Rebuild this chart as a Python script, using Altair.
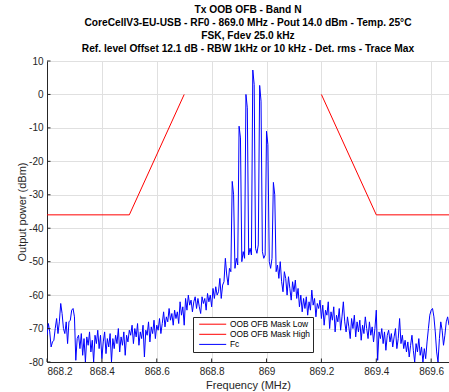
import altair as alt
import pandas as pd

# Title block (four lines)
TITLE_LINES = [
    "Tx OOB OFB - Band N",
    "CoreCellV3-EU-USB - RF0 - 869.0 MHz - Pout 14.0 dBm - Temp. 25°C",
    "FSK, Fdev 25.0 kHz",
    "Ref. level Offset 12.1 dB - RBW 1kHz or 10 kHz - Det. rms - Trace Max",
]

series_names = ["OOB OFB Mask Low", "OOB OFB Mask High", "Fc"]
series_colors = ["#ff0000", "#ff0000", "#0000ff"]

# Out-of-band masks (MHz, dBm)
mask_low_freq = [868.2, 868.5, 868.7]
mask_low_dbm = [-36, -36, 0]
mask_high_freq = [869.2, 869.4, 869.665]
mask_high_dbm = [0, -36, -36]

# Measured trace, 5 kHz bins starting at 868.2 MHz
fc_start_mhz = 868.2
fc_step_mhz = 0.005
fc_dbm = [
    -72, -68.5, -71, -75.5, -74, -73.5, -70, -67, -71.5, -68, -62.5, -65.5,
    -70, -71.5, -68, -74.5, -68, -67.5, -64.5, -64, -66.5, -79.5, -73,
    -72, -76, -71.5, -78, -73, -80, -72.5, -75, -71, -77, -73.5, -80, -72,
    -74.5, -70.5, -76, -72, -79, -74, -71, -77.5, -73, -75.5, -71.5, -80,
    -73, -76, -72, -74.5, -70, -77, -72.5, -75, -71, -78, -72, -74, -70.5,
    -72, -69, -74.5, -70, -72.5, -68.5, -75, -71, -73, -69, -78.5, -70.5,
    -72, -68, -74, -69.5, -71.5, -67.5, -73, -69, -70.5, -67, -71.5, -68.5,
    -65, -69.5, -66.5, -68, -64, -67.5, -65.5, -69, -64.5, -67, -65,
    -68.5, -62, -66, -63.5, -69, -61, -64.5, -60, -63, -61.5, -65, -62,
    -60.5, -64, -61, -63.5, -65.5, -60.5, -62.5, -61, -64.5, -59.5, -62,
    -60, -63.5, -58, -61, -57.5, -60, -59, -55, -61, -57, -56,
    -49, -54, -57, -52, -53, -26, -30, -52, -49, -51, -9.5, -13, -50, -47,
    -49, 0, -4, -48, -46, -48, 7.3, 3, -46, -47.5, -45, 2.7, -2, -47, -49,
    -48, -11, -15, -50, -52, -49, -26.3, -30, -53, -51, -55, -50, -56, -59,
    -53,
    -55, -60, -54.5, -58, -61.5, -56, -59, -55.5, -61, -58, -63.5, -60, -65,
    -61, -64, -60.5, -66, -62, -64.5, -58.5, -63, -61, -66.5, -62.5, -64,
    -61.5, -67, -63, -69, -64.5, -66, -62, -70, -65, -67.5, -63.5, -71, -66,
    -68, -64, -70.5, -66.5, -62, -68,
    -71, -66.5, -69.5, -73, -67, -70, -66, -72.5, -68, -71, -67.5, -73.5,
    -69, -71.5, -66.5, -70, -73, -68, -72, -69.5, -74, -70, -64.5, -79.5, -71,
    -73, -70, -74.5, -71, -76.5, -72, -70.5, -74, -71.5, -75.5, -72.5, -70,
    -76, -73, -67, -74.5, -72, -76,
    -73.5, -77, -74, -78.5, -75, -72, -76.5, -80, -74.5, -77, -73, -78,
    -75.5, -80, -76, -79, -74, -70, -66, -64.5, -64, -66.5, -71, -77, -80,
    -73, -68, -70.5, -75, -72, -68, -66.5, -69,
]

x_ticks = [868.2, 868.4, 868.6, 868.8, 869.0, 869.2, 869.4, 869.6]
y_ticks = [10, 0, -10, -20, -30, -40, -50, -60, -70, -80]
x_domain = [868.2, 869.665]
y_domain = [-80, 10]

rows = []
for f, v in zip(mask_low_freq, mask_low_dbm):
    rows.append({"freq": f, "dbm": v, "series": series_names[0]})
for f, v in zip(mask_high_freq, mask_high_dbm):
    rows.append({"freq": f, "dbm": v, "series": series_names[1]})
for i, v in enumerate(fc_dbm):
    rows.append({"freq": round(fc_start_mhz + i * fc_step_mhz, 4), "dbm": v,
                 "series": series_names[2]})
df = pd.DataFrame(rows)

W, H = 402, 301
AXIS_COLOR = "#262626"
FONT = "Liberation Sans"

x_scale = alt.Scale(domain=x_domain, nice=False, zero=False)
y_scale = alt.Scale(domain=y_domain, nice=False, zero=False)
x_axis = alt.Axis(values=x_ticks, labelExpr="'' + datum.value",
                  title="Frequency (MHz)", titlePadding=3, labelPadding=4)
y_axis = alt.Axis(values=y_ticks, labelExpr="'' + datum.value",
                  title="Output power (dBm)", titlePadding=1, labelPadding=4)

lines = alt.Chart(df).mark_line(strokeWidth=1, clip=True).encode(
    x=alt.X("freq:Q", scale=x_scale, axis=x_axis),
    y=alt.Y("dbm:Q", scale=y_scale, axis=y_axis),
    color=alt.Color(
        "series:N",
        scale=alt.Scale(domain=series_names, range=series_colors),
        legend=alt.Legend(
            title=None, orient="none", legendX=146, legendY=256,
            symbolType="M-6,0H6", symbolSize=20.25, symbolStrokeWidth=1,
            symbolOffset=12.5, labelOffset=13,
            labelFont=FONT, labelFontSize=8.4, labelColor="#000000",
            fillColor="#ffffff", strokeColor=AXIS_COLOR, padding=3,
            rowPadding=1.1,
        ),
    ),
)

# Inward tick marks along the bottom and left edges
xticks = alt.Chart(pd.DataFrame({"freq": x_ticks})).mark_rule(
    color=AXIS_COLOR, strokeWidth=1
).encode(x=alt.X("freq:Q", scale=x_scale, axis=x_axis),
         y=alt.value(H), y2=alt.value(H - 3.5))

yticks = alt.Chart(pd.DataFrame({"dbm": y_ticks})).mark_rule(
    color=AXIS_COLOR, strokeWidth=1
).encode(y=alt.Y("dbm:Q", scale=y_scale, axis=y_axis),
         x=alt.value(0), x2=alt.value(3.5))

chart = alt.layer(lines, xticks, yticks).properties(
    width=W,
    height=H,
    autosize=alt.AutoSizeParams(type="none"),
    padding={"left": 47, "top": 61, "right": 0, "bottom": 30},
    title=alt.TitleParams(
        text=TITLE_LINES, fontSize=10.2, fontWeight="bold", font=FONT,
        anchor="middle", offset=2, lineHeight=13, color="#000000",
        frame="group",
    ),
).configure_axis(
    labelFont=FONT, labelFontSize=10, labelColor=AXIS_COLOR,
    titleFont=FONT, titleFontSize=11, titleFontWeight="normal",
    titleColor=AXIS_COLOR, domainColor=AXIS_COLOR, gridColor="#e0e0e0",
    ticks=False,
).configure_view(stroke=None)

chart.save("out.html", embed_options={"renderer": "svg", "actions": False})
